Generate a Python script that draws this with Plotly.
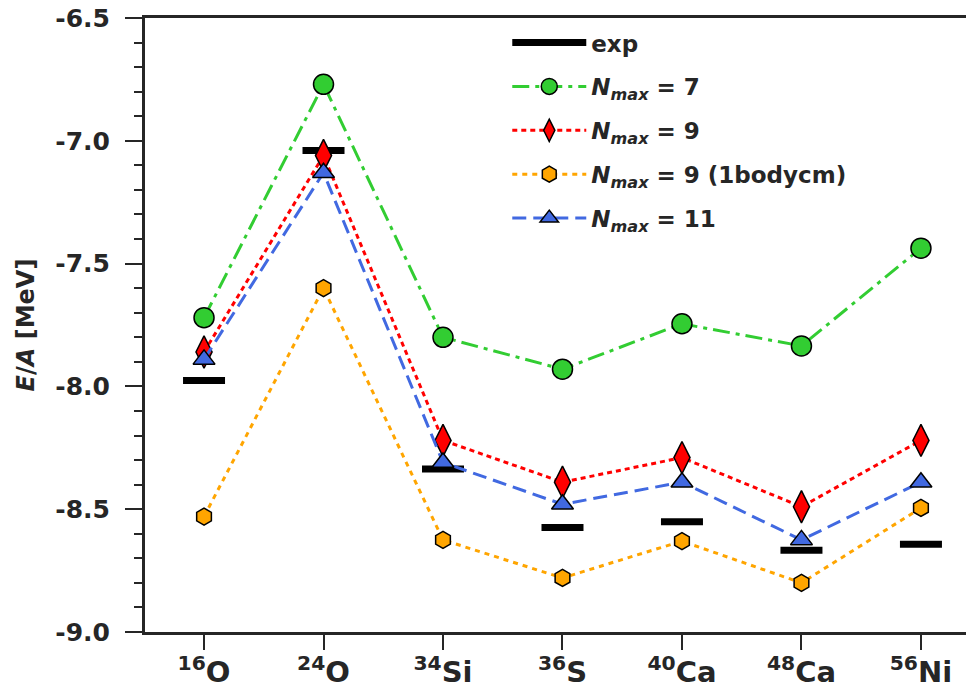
import plotly.graph_objects as go

nuclei = ["<sup>16</sup>O", "<sup>24</sup>O", "<sup>34</sup>Si", "<sup>36</sup>S",
          "<sup>40</sup>Ca", "<sup>48</sup>Ca", "<sup>56</sup>Ni"]
exp_vals = [-7.976, -7.04, -8.336, -8.575, -8.551, -8.667, -8.643]
nmax7 = [-7.72, -6.77, -7.80, -7.93, -7.745, -7.835, -7.437]
nmax9 = [-7.86, -7.06, -8.22, -8.39, -8.29, -8.49, -8.22]
nmax9_1b = [-8.53, -7.60, -8.625, -8.78, -8.63, -8.80, -8.495]
nmax11 = [-7.89, -7.13, -8.31, -8.48, -8.39, -8.625, -8.39]

yticks = [-9.0, -8.5, -8.0, -7.5, -7.0, -6.5]
ytick_text = ["-9.0", "-8.5", "-8.0", "-7.5", "-7.0", "-6.5"]

xlabels = ["<b>" + n + "</b>" for n in nuclei]
INK = "#262626"

fig = go.Figure()

def nm(s):
    return "<b><i>N</i><sub><i>max</i></sub> = " + s + "</b>"

# exp bars
fig.add_trace(go.Scatter(
    x=xlabels, y=exp_vals, mode="markers", showlegend=False,
    marker=dict(symbol="line-ew", size=30, color="black",
                line=dict(color="black", width=7)),
    legendgroup="g0"))
fig.add_trace(go.Scatter(
    x=[None], y=[None], mode="lines", name="<b>exp</b>",
    line=dict(color="black", width=7), legendgroup="g0"))

fig.add_trace(go.Scatter(
    x=xlabels, y=nmax7, mode="lines+markers", name=nm("7"), legendgroup="g1",
    line=dict(color="#32CD32", width=3, dash="17px,6px,4px,6px"),
    marker=dict(symbol="circle", size=20, color="#32CD32",
                line=dict(color="black", width=1.5))))
fig.add_trace(go.Scatter(
    x=xlabels, y=nmax9, mode="lines+markers", name=nm("9"), legendgroup="g2",
    line=dict(color="red", width=3, dash="5px,4px"),
    marker=dict(symbol="diamond-tall", size=23, color="red",
                line=dict(color="black", width=1.5))))
fig.add_trace(go.Scatter(
    x=xlabels, y=nmax9_1b, mode="lines+markers", name=nm("9 (1bodycm)"), legendgroup="g3",
    line=dict(color="orange", width=3, dash="5px,5px"),
    marker=dict(symbol="hexagon", size=17, color="orange",
                line=dict(color="black", width=1.5))))
fig.add_trace(go.Scatter(
    x=xlabels, y=nmax11, mode="lines+markers", name=nm("11"), legendgroup="g4",
    line=dict(color="royalblue", width=3, dash="14px,7px"),
    marker=dict(symbol="triangle-up", size=19, color="royalblue",
                line=dict(color="black", width=1.5))))

fig.update_layout(
    width=966, height=687,
    margin=dict(l=137, r=0, t=10, b=63),
    plot_bgcolor="white", paper_bgcolor="white",
    font=dict(family="DejaVu Sans", color=INK),
    legend=dict(x=0.437, y=0.995, xanchor="left", yanchor="top",
                font=dict(size=23, color=INK, family="DejaVu Sans"),
                bgcolor="rgba(0,0,0,0)", traceorder="grouped",
                tracegroupgap=11, itemwidth=74),
    xaxis=dict(type="category", range=[-0.494, 6.444], automargin=False,
               showline=True, linecolor=INK, linewidth=3, mirror=True,
               ticks="outside", ticklen=15, tickwidth=2, tickcolor=INK,
               showgrid=False, zeroline=False, ticklabelstandoff=-3,
               tickfont=dict(size=29, family="DejaVu Sans", color=INK)),
    yaxis=dict(range=[-9.0, -6.5], tickvals=yticks, ticktext=["<b>" + t + "</b>" for t in ytick_text],
               automargin=False,
               showline=True, linecolor=INK, linewidth=3,
               ticks="outside", ticklen=17, tickwidth=2, tickcolor=INK,
               minor=dict(dtick=0.1, ticks="outside", ticklen=8, tickwidth=2, tickcolor=INK),
               showgrid=False, zeroline=False, ticklabelstandoff=10,
               ticklabeloverflow="allow",
               tickfont=dict(size=25, color=INK),
               title=dict(text="<b><i>E</i>/<i>A</i> [MeV]</b>", font=dict(size=24, color=INK),
                          standoff=14)),
)

fig.write_html("out.html")
